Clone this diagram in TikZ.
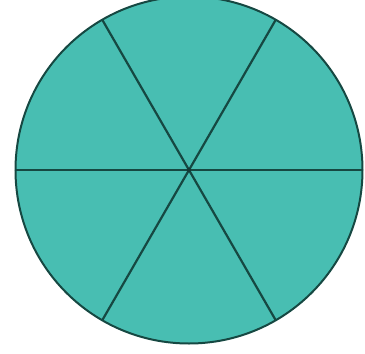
\documentclass[tikz,border=0pt]{standalone}
\usepackage{xcolor}
\definecolor{sectorteal}{RGB}{72,190,178}
\definecolor{sectorline}{RGB}{22,72,66}

\begin{document}
\begin{tikzpicture}[x=1pt,y=-1pt]
\useasboundingbox (0,0) rectangle (365,354);
% disc centre and radius
\coordinate (C) at (189,170);
\def\rad{173.5}
% filled disc
\fill[sectorteal] (C) circle (\rad);
% six sectors: three diameters
\foreach \a in {0,60,120} {
  \draw[sectorline,line width=2.2pt] (C) -- ++(\a:\rad);
  \draw[sectorline,line width=2.2pt] (C) -- ++(\a+180:\rad);
}
% outline
\draw[sectorline,line width=2pt] (C) circle (\rad);
\fill[sectorline!80!black] (C) circle (2.2pt);
\end{tikzpicture}
\end{document}
